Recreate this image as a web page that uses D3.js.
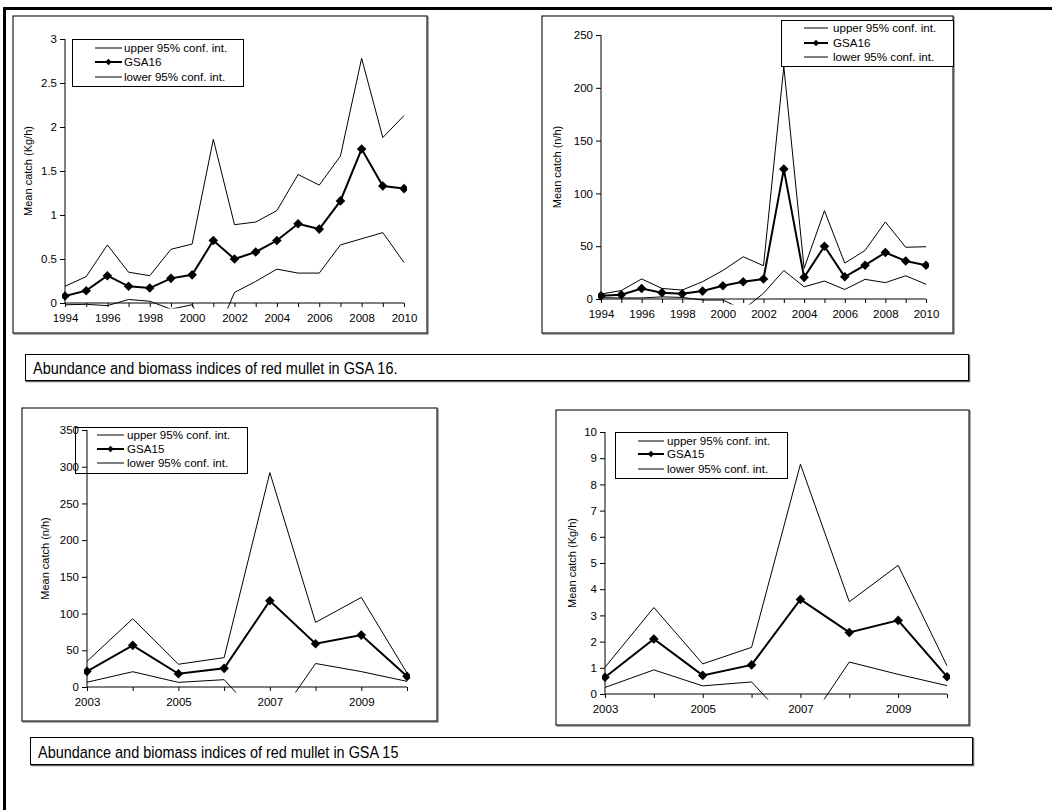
<!DOCTYPE html>
<html><head><meta charset="utf-8">
<script src="https://cdn.jsdelivr.net/npm/d3@7/dist/d3.min.js"></script>
<style>
html,body{margin:0;padding:0;background:#fff;}
svg{display:block;font-family:"Liberation Sans",Arial,sans-serif;}
</style></head>
<body>
<svg id="c" width="1052" height="810"></svg>
<script>
// ---------- DATA ----------
const years16 = [1994,1995,1996,1997,1998,1999,2000,2001,2002,2003,2004,2005,2006,2007,2008,2009,2010];
const years15 = [2003,2004,2005,2006,2007,2008,2009,2010];

// GSA16 biomass (Kg/h)
const bio16Mean  = [0.08,0.14,0.31,0.19,0.17,0.28,0.32,0.71,0.50,0.58,0.71,0.90,0.84,1.16,1.75,1.33,1.30];
const bio16Upper = [0.19,0.30,0.66,0.35,0.31,0.61,0.67,1.86,0.89,0.92,1.05,1.46,1.34,1.67,2.78,1.88,2.13];
const bio16Lower = [-0.02,-0.015,-0.03,0.04,0.02,-0.07,-0.02,-0.44,0.12,0.245,0.385,0.34,0.34,0.66,0.73,0.80,0.46];

// GSA16 abundance (n/h)
const abu16Mean  = [3,4,10,6,5,7.5,12.6,16.4,19,123,20.5,50,21,32,44,36,32];
const abu16Upper = [4.7,8,19,10,8.5,16.4,27,40,31.5,220,29,83.6,34,46,73,49,49.5];
const abu16Lower = [1.3,1,1,2,1.5,-1,-1,-10,5.4,27,11.5,17,9,18.6,15.5,22,14];

// GSA15 abundance (n/h)
const abu15Mean  = [21.3,56.7,18,25.4,117.4,59,70.7,14.5];
const abu15Upper = [35,93,31,40,292,88,122,19];
const abu15Lower = [6.5,20.8,6.3,10,-58,32,21,7.7];

// GSA15 biomass (Kg/h)
const bio15Mean  = [0.64,2.10,0.71,1.11,3.61,2.35,2.81,0.66];
const bio15Upper = [1.02,3.30,1.15,1.78,8.77,3.52,4.91,1.08];
const bio15Lower = [0.25,0.92,0.31,0.46,-1.55,1.22,0.75,0.32];

// tick labels
const xLabels16 = [1994,1996,1998,2000,2002,2004,2006,2008,2010];
const xLabels15 = [2003,2005,2007,2009];
const yTicksBio16 = [0,0.5,1,1.5,2,2.5,3];
const yTicksAbu16 = [0,50,100,150,200,250];
const yTicksAbu15 = [0,50,100,150,200,250,300,350];
const yTicksBio15 = [0,1,2,3,4,5,6,7,8,9,10];

const legendLabels = ["upper 95% conf. int.", null, "lower 95% conf. int."];
const captions = ["Abundance and biomass indices of red mullet in GSA 16.",
                  "Abundance and biomass indices of red mullet in GSA 15"];

// ---------- LAYOUT ----------
const svg = d3.select("#c");
const FONT = "Liberation Sans, Arial, sans-serif";

// outer page frame
svg.append("line").attr("x1",3).attr("x2",1052).attr("y1",8.5).attr("y2",8.5).attr("stroke","#000").attr("stroke-width",3);
svg.append("line").attr("x1",4.5).attr("x2",4.5).attr("y1",7).attr("y2",810).attr("stroke","#000").attr("stroke-width",3);

const panels = [
  {frame:[13,16,414,317], plot:[65,404,39,303], years:years16, xlab:xLabels16, yt:yTicksBio16, ydom:[0,3],
   mean:bio16Mean, up:bio16Upper, lo:bio16Lower, name:"GSA16", title:"Mean catch (Kg/h)", tx:28,
   leg:[72,39,171,47], rows:[48,62,77], samp:[95,122], textX:124},
  {frame:[542,16,411,317], plot:[601,926,35,299], years:years16, xlab:xLabels16, yt:yTicksAbu16, ydom:[0,250],
   mean:abu16Mean, up:abu16Upper, lo:abu16Lower, name:"GSA16", title:"Mean catch (n/h)", tx:557,
   leg:[781,20,172,46], rows:[28,43,57], samp:[804,828], textX:833},
  {frame:[22,408,415,313], plot:[87,407,430,687], years:years15, xlab:xLabels15, yt:yTicksAbu15, ydom:[0,350],
   mean:abu15Mean, up:abu15Upper, lo:abu15Lower, name:"GSA15", title:"Mean catch (n/h)", tx:45,
   leg:[75,427,172,46], rows:[435,449,463], samp:[97,124], textX:127},
  {frame:[556,410,413,315], plot:[605,947,432,694], years:years15, xlab:xLabels15, yt:yTicksBio15, ydom:[0,10],
   mean:bio15Mean, up:bio15Upper, lo:bio15Lower, name:"GSA15", title:"Mean catch (Kg/h)", tx:572,
   leg:[615,432,172,46], rows:[441,454,469], samp:[638,664], textX:667}
];

const diamond = d3.symbol().type(d3.symbolSquare);

panels.forEach((p, i) => {
  const g = svg.append("g");
  const [fx,fy,fw,fh] = p.frame;
  g.append("rect").attr("x",fx+1).attr("y",fy+1).attr("width",fw).attr("height",fh)
    .attr("fill","none").attr("stroke","#555").attr("stroke-width",1);
  g.append("rect").attr("x",fx).attr("y",fy).attr("width",fw).attr("height",fh)
    .attr("fill","#fff").attr("stroke","#222").attr("stroke-width",1.2);

  const [L,R,T,B] = p.plot;
  const x = d3.scaleLinear().domain(d3.extent(p.years)).range([L,R]);
  const y = d3.scaleLinear().domain(p.ydom).range([B,T]);

  // legend
  const [lx,ly,lw,lh] = p.leg;
  const lg = g.append("g");
  lg.append("rect").attr("x",lx+0.5).attr("y",ly+0.5).attr("width",lw).attr("height",lh)
    .attr("fill","#fff").attr("stroke","#000").attr("stroke-width",1);
  p.rows.forEach((ry, k) => {
    lg.append("line").attr("x1",p.samp[0]).attr("x2",p.samp[1]).attr("y1",ry).attr("y2",ry)
      .attr("stroke","#000").attr("stroke-width", k===1 ? 2 : 1);
    if (k===1) {
      lg.append("path").attr("d", d3.symbol().type(d3.symbolSquare).size(20)())
        .attr("transform",`translate(${(p.samp[0]+p.samp[1])/2},${ry}) rotate(45)`).attr("fill","#000");
    }
    lg.append("text").attr("x",p.textX).attr("y",ry+4).attr("font-size",11.6)
      .text(k===1 ? p.name : legendLabels[k]);
  });

  // axes
  const xa = d3.axisBottom(x).tickValues(p.years).tickSize(4).tickPadding(7)
    .tickFormat(d => p.xlab.includes(d) ? String(d) : "");
  const gx = g.append("g").attr("transform",`translate(0,${B})`).call(xa);
  gx.select(".domain").attr("stroke","#000").attr("d",`M${L},0H${R}`);
  gx.selectAll(".tick line").attr("stroke","#000");
  gx.selectAll("text").attr("font-size",11.5).attr("font-family",FONT).attr("fill","#000");

  const ya = d3.axisLeft(y).tickValues(p.yt).tickSize(5).tickPadding(3).tickFormat(d3.format("~g"));
  const gy = g.append("g").attr("transform",`translate(${L},0)`).call(ya);
  gy.select(".domain").attr("stroke","#000").attr("d",`M0,${B}V${T}`);
  gy.selectAll(".tick line").attr("stroke","#000");
  gy.selectAll("text").attr("font-size",11.5).attr("font-family",FONT).attr("fill","#000");

  // y title
  g.append("text").attr("transform",`translate(${p.tx},${(T+B)/2}) rotate(-90)`)
    .attr("text-anchor","middle").attr("dy","0.35em").attr("font-size",11).text(p.title);

  // series with clip
  const cid = "clip"+i;
  g.append("clipPath").attr("id",cid).append("rect")
    .attr("x",L-3).attr("y",T-30).attr("width",R-L+6).attr("height",B-T+30+5.5);
  const sg = g.append("g").attr("clip-path",`url(#${cid})`);
  const line = d3.line().x((d,j)=>x(p.years[j])).y(d=>y(d));
  sg.append("path").attr("d",line(p.up)).attr("fill","none").attr("stroke","#000").attr("stroke-width",1);
  sg.append("path").attr("d",line(p.lo)).attr("fill","none").attr("stroke","#000").attr("stroke-width",1);
  sg.append("path").attr("d",line(p.mean)).attr("fill","none").attr("stroke","#000").attr("stroke-width",2);
  sg.selectAll("path.m").data(p.mean).enter().append("path").attr("class","m")
    .attr("d", diamond.size(46)())
    .attr("transform",(d,j)=>`translate(${x(p.years[j])},${y(d)}) rotate(45)`)
    .attr("fill","#000");
});

// captions
const capBoxes = [[25,354,943,26],[30,737,942,27]];
captions.forEach((t,i) => {
  const [bx,by,bw,bh] = capBoxes[i];
  svg.append("rect").attr("x",bx+1.5).attr("y",by+1.5).attr("width",bw).attr("height",bh)
    .attr("fill","none").attr("stroke","#666").attr("stroke-width",1.5);
  svg.append("rect").attr("x",bx+0.5).attr("y",by+0.5).attr("width",bw).attr("height",bh)
    .attr("fill","#fff").attr("stroke","#000").attr("stroke-width",1);
  svg.append("text").attr("transform",`translate(${bx+8},${by+bh-6}) scale(0.85,1)`)
    .attr("font-size",17).text(t);
});
</script>
</body></html>
